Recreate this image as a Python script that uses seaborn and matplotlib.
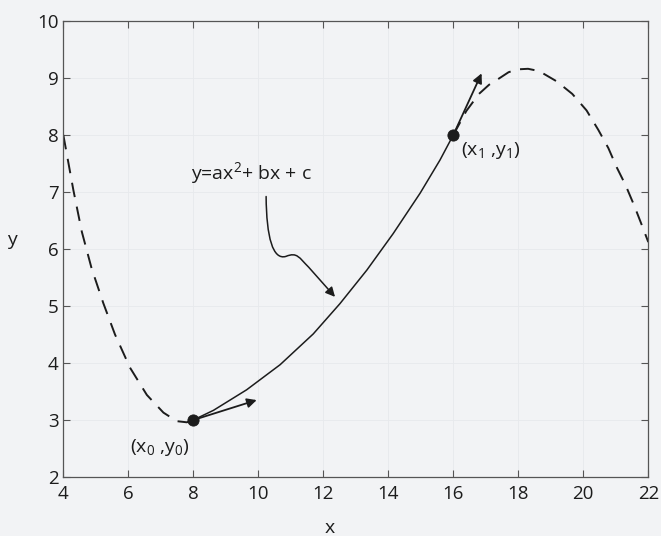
import seaborn as sns
import matplotlib.pyplot as plt
from matplotlib.path import Path
from matplotlib.patches import FancyArrowPatch

# values
left_x = [4.0, 4.31, 4.57, 4.87, 5.23, 5.59, 6.05, 6.57, 7.08, 7.49, 7.80, 8.0]
left_y = [8.0, 7.03, 6.30, 5.66, 5.05, 4.50, 3.92, 3.44, 3.13, 2.98, 2.96, 3.0]

mid_x = [8.0, 8.62, 9.64, 10.67, 11.69, 12.51, 13.34, 14.15, 14.98, 15.59, 16.0]
mid_y = [3.0, 3.17, 3.53, 3.97, 4.51, 5.04, 5.63, 6.27, 6.98, 7.56, 8.0]

right_x = [16.0, 16.4, 16.79, 17.1, 17.38, 17.7, 17.97, 18.3, 18.64, 19.18, 19.66,
           20.10, 20.46, 20.77, 21.03, 21.30, 21.56, 21.82, 22.0]
right_y = [8.0, 8.42, 8.72, 8.88, 8.98, 9.1, 9.15, 9.16, 9.12, 8.94, 8.72,
           8.43, 8.09, 7.77, 7.43, 7.12, 6.77, 6.39, 6.12]

pts_x = [8, 16]
pts_y = [3, 8]
tangent_ends = [(9.95, 3.35), (16.87, 9.08)]

x_ticks = list(range(4, 23, 2))
y_ticks = list(range(2, 11))

sns.set_theme(style="ticks")
plt.rcParams['font.family'] = ['Open Sans', 'DejaVu Sans']
plt.rcParams['mathtext.default'] = 'regular'
plt.rcParams['mathtext.fontset'] = 'custom'
plt.rcParams['mathtext.rm'] = 'Open Sans'

ink = '#1c1c1c'
bg = '#f2f3f5'

fig = plt.figure(figsize=(6.61, 5.36), dpi=100, facecolor=bg)
ax = fig.add_axes([0.0958, 0.110, 0.885, 0.851])
ax.set_facecolor(bg)

# curves
sns.lineplot(x=left_x, y=left_y, ax=ax, color=ink, lw=1.4, sort=False,
             linestyle=(0, (7.5, 5)))
sns.lineplot(x=right_x, y=right_y, ax=ax, color=ink, lw=1.4, sort=False,
             linestyle=(0, (7.5, 5)))
sns.lineplot(x=mid_x, y=mid_y, ax=ax, color=ink, lw=1.1, sort=False)
sns.scatterplot(x=pts_x, y=pts_y, ax=ax, color=ink, s=65, zorder=5, edgecolor=ink)

# tangent arrows
for (x0, y0), (x1, y1) in zip(zip(pts_x, pts_y), tangent_ends):
    ax.annotate('', xy=(x1, y1), xytext=(x0, y0),
                arrowprops=dict(arrowstyle='-|>', color=ink, lw=1.3,
                                mutation_scale=14, shrinkA=0, shrinkB=0))

# labels
ax.text(6.05, 2.52, '(x$_0$ ,y$_0$)', fontsize=14, color=ink, va='center', ha='left')
ax.text(16.24, 7.72, '(x$_1$ ,y$_1$)', fontsize=14, color=ink, va='center', ha='left')
ax.text(7.93, 7.34, 'y=ax$^2$+ bx + c', fontsize=14, color=ink, va='center', ha='left')

# wavy pointer
wave = Path([(10.24, 6.92), (10.25, 6.2), (10.45, 5.8), (10.85, 5.87),
             (11.2, 5.95), (11.25, 5.85), (11.55, 5.68),
             (12.36, 5.16)],
            [Path.MOVETO, Path.CURVE4, Path.CURVE4, Path.CURVE4,
             Path.CURVE4, Path.CURVE4, Path.CURVE4, Path.LINETO])
ax.add_patch(FancyArrowPatch(path=wave, arrowstyle='-|>', mutation_scale=14,
                             color=ink, lw=1.1, transform=ax.transData))

ax.set_xlim(4, 22)
ax.set_ylim(2, 10)
ax.set_xticks(x_ticks)
ax.set_yticks(y_ticks)
ax.grid(True, color='#e7e9ec', lw=0.6)
ax.tick_params(direction='in', top=True, right=True, length=5, width=0.8,
               labelsize=13.5, colors='#555555', labelcolor=ink)
ax.tick_params(axis='x', pad=6)
for s in ax.spines.values():
    s.set_color('#555555')
    s.set_linewidth(0.9)

ax.set_xlabel('x', fontsize=14, color=ink)
ax.set_ylabel('y', fontsize=14, color=ink, rotation=0, va='center', ha='center')
ax.xaxis.set_label_coords(0.456, -0.092)
ax.yaxis.set_label_coords(-0.088, 0.52)

fig.savefig('out.png', dpi=100, facecolor=bg)
